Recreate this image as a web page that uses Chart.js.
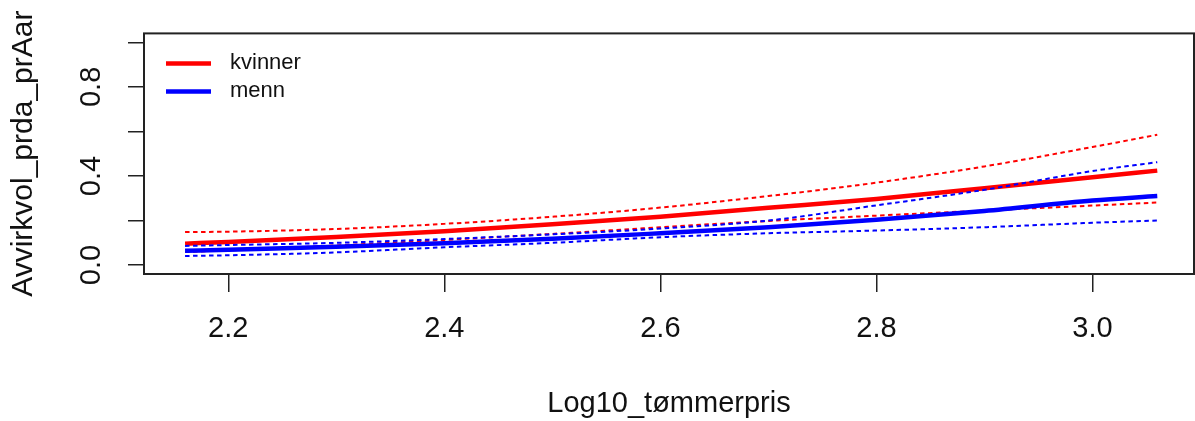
<!DOCTYPE html>
<html lang="no">
<head>
    <meta charset="UTF-8">
    <title>Avvirkvol_prda_prAar</title>
    <script src="https://cdn.jsdelivr.net/npm/chart.js"></script>
    <style>
        body { margin: 0; background: #fff; }
        #chart { display: block; }
    </style>
</head>
<body>
    <canvas id="chart" width="1195" height="421"></canvas>

    <script>
        // values
        const xVals = [2.16, 2.2, 2.3, 2.4, 2.5, 2.6, 2.7, 2.8, 2.9, 3.0, 3.06];
        const kvinnerFit = [0.096, 0.104, 0.126, 0.152, 0.183, 0.217, 0.257, 0.297, 0.345, 0.394, 0.424];
        const kvinnerLo = [0.059, 0.066, 0.088, 0.113, 0.140, 0.170, 0.198, 0.222, 0.245, 0.267, 0.281];
        const kvinnerHi = [0.148, 0.150, 0.162, 0.185, 0.217, 0.258, 0.310, 0.370, 0.443, 0.530, 0.585];
        const mennFit = [0.064, 0.069, 0.082, 0.098, 0.118, 0.143, 0.170, 0.203, 0.243, 0.290, 0.310];
        const mennLo = [0.041, 0.044, 0.057, 0.080, 0.100, 0.125, 0.143, 0.155, 0.170, 0.190, 0.200];
        const mennHi = [0.086, 0.090, 0.100, 0.117, 0.138, 0.164, 0.200, 0.268, 0.338, 0.422, 0.462];

        const xTicks = [2.2, 2.4, 2.6, 2.8, 3.0];
        const yTicks = [0, 0.2, 0.4, 0.6, 0.8, 1.0];
        const yLabelled = [0, 0.4, 0.8];

        const FONT = "'Liberation Sans', Arial, sans-serif";

        function pts(ys) {
            return xVals.map((x, i) => ({ x: x, y: ys[i] }));
        }

        function fitLine(label, color, ys, order) {
            return { label: label, data: pts(ys), borderColor: color, borderWidth: 4.5,
                     pointRadius: 0, cubicInterpolationMode: 'monotone', order: order, isFit: true };
        }
        function ciLine(color, ys, order) {
            return { label: '', data: pts(ys), borderColor: color, borderWidth: 2, borderDash: [4.5, 3.5],
                     pointRadius: 0, cubicInterpolationMode: 'monotone', order: order };
        }

        // box round the plot region, like R's bty="o"
        const boxPlugin = {
            id: 'box',
            afterDraw(chart) {
                const a = chart.chartArea, ctx = chart.ctx;
                ctx.save();
                ctx.strokeStyle = '#222';
                ctx.lineWidth = 2;
                ctx.strokeRect(a.left, a.top, a.right - a.left, a.bottom - a.top);
                ctx.restore();
            }
        };

        const legendPlugin = {
            id: 'rlegend',
            afterDraw(chart) {
                const a = chart.chartArea, ctx = chart.ctx;
                const fits = chart.data.datasets.filter(d => d.isFit);
                ctx.save();
                ctx.font = '22px ' + FONT;
                ctx.textBaseline = 'middle';
                fits.forEach((d, i) => {
                    const y = a.top + 30 + i * 28;
                    ctx.strokeStyle = d.borderColor;
                    ctx.lineWidth = 4.5;
                    ctx.beginPath();
                    ctx.moveTo(a.left + 22, y);
                    ctx.lineTo(a.left + 67, y);
                    ctx.stroke();
                    ctx.fillStyle = '#111';
                    ctx.fillText(d.label, a.left + 86, y);
                });
                ctx.restore();
            }
        };

        const ctx = document.getElementById('chart').getContext('2d');
        const chart = new Chart(ctx, {
            type: 'line',
            data: {
                datasets: [
                    fitLine('kvinner', '#ff0000', kvinnerFit, 3),
                    ciLine('#ff0000', kvinnerLo, 2),
                    ciLine('#ff0000', kvinnerHi, 2),
                    fitLine('menn', '#0000ff', mennFit, 1),
                    ciLine('#0000ff', mennLo, 0),
                    ciLine('#0000ff', mennHi, 0)
                ]
            },
            options: {
                responsive: false,
                animation: false,
                layout: { padding: { top: 31, right: 1, left: 0, bottom: 0 } },
                plugins: { legend: { display: false }, tooltip: { enabled: false } },
                scales: {
                    x: {
                        type: 'linear',
                        min: 2.122,
                        max: 3.094,
                        afterBuildTicks(s) { s.ticks = xTicks.map(v => ({ value: v })); },
                        afterFit(s) { s.height = 147; },
                        grid: { drawOnChartArea: false, drawTicks: true, tickLength: 18, color: '#222', lineWidth: 1.5 },
                        border: { display: false },
                        ticks: {
                            padding: 20,
                            color: '#111',
                            font: { family: FONT, size: 29 },
                            maxRotation: 0,
                            callback: v => v.toFixed(1)
                        },
                        title: {
                            display: true,
                            text: 'Log10_tømmerpris',
                            color: '#111',
                            font: { family: FONT, size: 29 },
                            padding: { top: 0, bottom: 0 }
                        }
                    },
                    y: {
                        min: -0.04,
                        max: 1.04,
                        afterBuildTicks(s) { s.ticks = yTicks.map(v => ({ value: v })); },
                        afterFit(s) { s.width = 144; },
                        grid: { drawOnChartArea: false, drawTicks: true, tickLength: 16, color: '#222', lineWidth: 1.5 },
                        border: { display: false },
                        ticks: {
                            padding: 16,
                            color: '#111',
                            font: { family: FONT, size: 29 },
                            minRotation: 90,
                            maxRotation: 90,
                            crossAlign: 'center',
                            callback: v => yLabelled.some(t => Math.abs(t - v) < 1e-9) ? v.toFixed(1) : ''
                        },
                        title: {
                            display: true,
                            text: 'Avvirkvol_prda_prAar',
                            color: '#111',
                            font: { family: FONT, size: 30 },
                            padding: { top: 6, bottom: 0 }
                        }
                    }
                }
            },
            plugins: [boxPlugin, legendPlugin]
        });
    </script>
</body>
</html>
